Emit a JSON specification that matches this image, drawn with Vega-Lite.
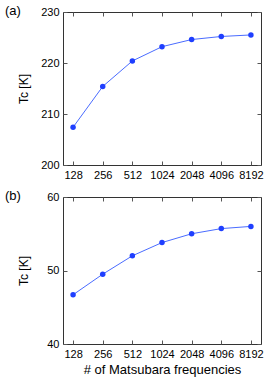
{
  "$schema": "https://vega.github.io/schema/vega-lite/v6.json",
  "padding": {"left": 4, "top": 4, "right": 6, "bottom": 4},
  "config": {
    "font": "Liberation Sans",
    "view": {"stroke": "#333333", "strokeWidth": 1},
    "axis": {"labelColor": "#000000", "titleColor": "#000000", "labelFontSize": 11, "titleFontSize": 12, "titleFontWeight": "normal", "grid": false, "domain": false, "tickColor": "#555555", "tickSize": -4, "labelPadding": 8}
  },
  "data": {"values": [
    {"panel": "a", "n": "128", "tc": 207.4},
    {"panel": "a", "n": "256", "tc": 215.4},
    {"panel": "a", "n": "512", "tc": 220.4},
    {"panel": "a", "n": "1024", "tc": 223.2},
    {"panel": "a", "n": "2048", "tc": 224.6},
    {"panel": "a", "n": "4096", "tc": 225.2},
    {"panel": "a", "n": "8192", "tc": 225.5},
    {"panel": "b", "n": "128", "tc": 46.7},
    {"panel": "b", "n": "256", "tc": 49.5},
    {"panel": "b", "n": "512", "tc": 52.0},
    {"panel": "b", "n": "1024", "tc": 53.8},
    {"panel": "b", "n": "2048", "tc": 55.0},
    {"panel": "b", "n": "4096", "tc": 55.7},
    {"panel": "b", "n": "8192", "tc": 56.0}
  ]},
  "spacing": 8,
  "vconcat": [
    {
      "width": 198, "height": 153,
      "title": {"text": "(a)", "anchor": "start", "frame": "group", "dx": -58, "offset": -12, "fontSize": 13, "fontWeight": "normal", "color": "#000000"},
      "transform": [{"filter": "datum.panel === 'a'"}],
      "layer": [
        {
          "mark": {"type": "line", "color": "#4a6cff", "strokeWidth": 1},
          "encoding": {
            "x": {"field": "n", "type": "ordinal", "sort": ["128","256","512","1024","2048","4096","8192"], "scale": {"type": "point", "padding": 0.34}, "axis": {"orient": "bottom", "title": null, "labelAngle": 0}},
            "y": {"field": "tc", "type": "quantitative", "scale": {"domain": [200, 230], "nice": false, "zero": false}, "axis": {"orient": "left", "values": [200, 210, 220, 230], "title": "Tc [K]", "titlePadding": 10}}
          }
        },
        {
          "mark": {"type": "circle", "size": 30, "color": "#1f3fff", "opacity": 1},
          "encoding": {
            "x": {"field": "n", "type": "ordinal", "sort": ["128","256","512","1024","2048","4096","8192"], "scale": {"type": "point", "padding": 0.34}, "axis": {"orient": "top", "title": null, "labels": false}},
            "y": {"field": "tc", "type": "quantitative", "scale": {"domain": [200, 230], "nice": false, "zero": false}, "axis": {"orient": "right", "values": [200, 210, 220, 230], "title": null, "labels": false}}
          }
        }
      ],
      "resolve": {"axis": {"x": "independent", "y": "independent"}}
    },
    {
      "width": 198, "height": 147,
      "title": {"text": "(b)", "anchor": "start", "frame": "group", "dx": -58, "offset": -12, "fontSize": 13, "fontWeight": "normal", "color": "#000000"},
      "transform": [{"filter": "datum.panel === 'b'"}],
      "layer": [
        {
          "mark": {"type": "line", "color": "#4a6cff", "strokeWidth": 1},
          "encoding": {
            "x": {"field": "n", "type": "ordinal", "sort": ["128","256","512","1024","2048","4096","8192"], "scale": {"type": "point", "padding": 0.34}, "axis": {"orient": "bottom", "title": "# of Matsubara frequencies", "labelAngle": 0, "titlePadding": 4, "titleFontSize": 13}},
            "y": {"field": "tc", "type": "quantitative", "scale": {"domain": [40, 60], "nice": false, "zero": false}, "axis": {"orient": "left", "values": [40, 50, 60], "title": "Tc [K]", "titlePadding": 16}}
          }
        },
        {
          "mark": {"type": "circle", "size": 30, "color": "#1f3fff", "opacity": 1},
          "encoding": {
            "x": {"field": "n", "type": "ordinal", "sort": ["128","256","512","1024","2048","4096","8192"], "scale": {"type": "point", "padding": 0.34}, "axis": {"orient": "top", "title": null, "labels": false}},
            "y": {"field": "tc", "type": "quantitative", "scale": {"domain": [40, 60], "nice": false, "zero": false}, "axis": {"orient": "right", "values": [40, 50, 60], "title": null, "labels": false}}
          }
        }
      ],
      "resolve": {"axis": {"x": "independent", "y": "independent"}}
    }
  ]
}
